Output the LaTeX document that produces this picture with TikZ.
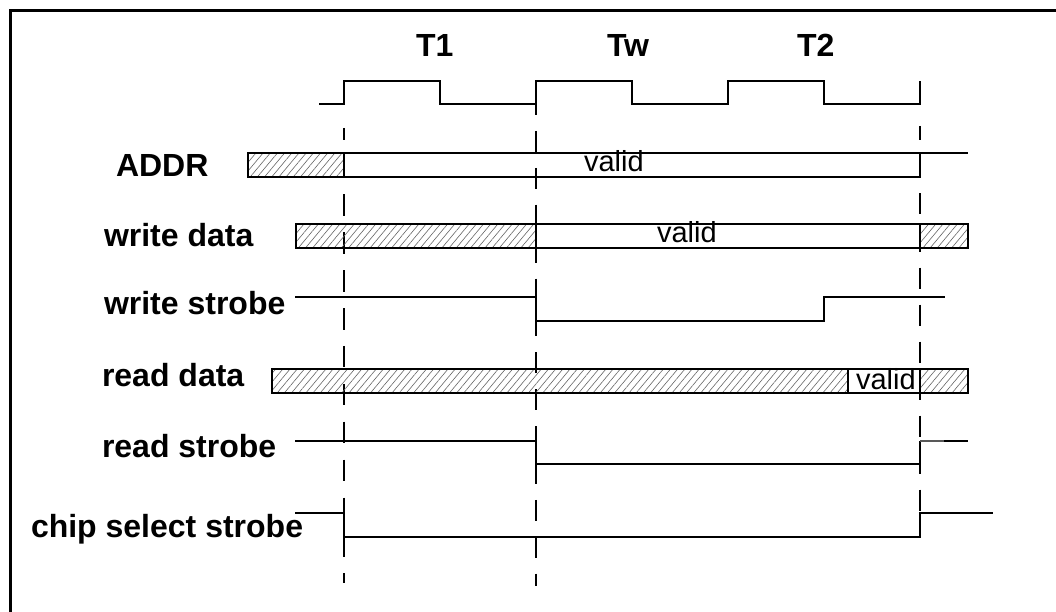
\documentclass[tikz,border=0pt]{standalone}
\usepackage{fontspec}
\setmainfont{Liberation Sans}
\usetikzlibrary{patterns.meta}
\begin{document}
\begin{tikzpicture}[x=1pt,y=-1pt,
  sig/.style={line width=2.8pt, line cap=butt, line join=miter},
  hatch/.style={pattern={Lines[angle=50,distance=5.5pt,line width=0.6pt]}, pattern color=black!60},
  lbl/.style={anchor=base west, inner sep=0pt, outer sep=0pt, font=\fontsize{32}{36}\selectfont\bfseries},
  val/.style={anchor=base west, inner sep=0pt, outer sep=0pt, font=\fontsize{29}{34}\selectfont},
  guide/.style={line width=2.8pt, line cap=butt}
]
\useasboundingbox (0,0) rectangle (1056,612);
\clip (0,0) rectangle (1056,612);
\fill[white] (0,0) rectangle (1056,612);
% frame (cut off at right and bottom)
\draw[line width=3pt] (10,11) rectangle (1090,650);

% guide lines
\draw[guide, dash pattern=on 21.5pt off 16.4pt, dash phase=9.5pt] (344,128) -- (344,583);
\draw[guide, dash pattern=on 21pt off 15.9pt, dash phase=10pt] (536,104) -- (536,586);
\draw[guide, dash pattern=on 21pt off 16pt, dash phase=6.5pt] (920,126) -- (920,537);

% clock
\draw[sig] (319,104) -- (344,104) -- (344,81) -- (440,81) -- (440,104) -- (536,104) -- (536,81)
  -- (632,81) -- (632,104) -- (728,104) -- (728,81) -- (824,81) -- (824,104) -- (920,104) -- (920,81);

% ADDR
\draw[sig, hatch] (248,153) rectangle (344,177);
\draw[sig] (344,153) -- (968,153);
\draw[sig] (344,177) -- (920,177) -- (920,153);

% write data
\fill[hatch] (296,224) rectangle (536,248);
\fill[hatch] (920,224) rectangle (968,248);
\draw[sig] (296,224) rectangle (968,248);
\draw[sig] (536,224) -- (536,248);
\draw[sig] (920,224) -- (920,248);

% write strobe
\draw[sig] (295,297) -- (536,297) -- (536,321) -- (824,321) -- (824,297) -- (945,297);

% read data
\fill[hatch] (272,369) rectangle (848,393);
\fill[hatch] (920,369) rectangle (968,393);
\draw[sig] (272,369) rectangle (968,393);
\draw[sig] (848,369) -- (848,393);
\draw[sig] (920,369) -- (920,393);

% read strobe
\draw[sig] (295,441) -- (536,441) -- (536,464) -- (920,464) -- (920,441);
\draw[sig, black!65] (920,441) -- (944,441);
\draw[sig] (944,441) -- (968,441);

% chip select strobe
\draw[sig] (295,513) -- (344,513) -- (344,537) -- (920,537) -- (920,513) -- (993,513);

% labels
\node[lbl] (t1) at (416,57) {T1};
\node[lbl] (tw) at (607,57) {Tw};
\node[lbl] (t2) at (797,57) {T2};
\node[lbl] (addr) at (116,177) {ADDR};
\node[lbl] (wd) at (104,247) {write data};
\node[lbl] (ws) at (104,314) {write strobe};
\node[lbl] (rd) at (102,386) {read data};
\node[lbl] (rs) at (102,457) {read strobe};
\node[lbl] (cs) at (31,537) {chip select strobe};
\node[val] (v1) at (584,172) {valid};
\node[val] (v2) at (657,243) {valid};
\node[val] (v3) at (856,389) {valid};
\end{tikzpicture}
\end{document}
